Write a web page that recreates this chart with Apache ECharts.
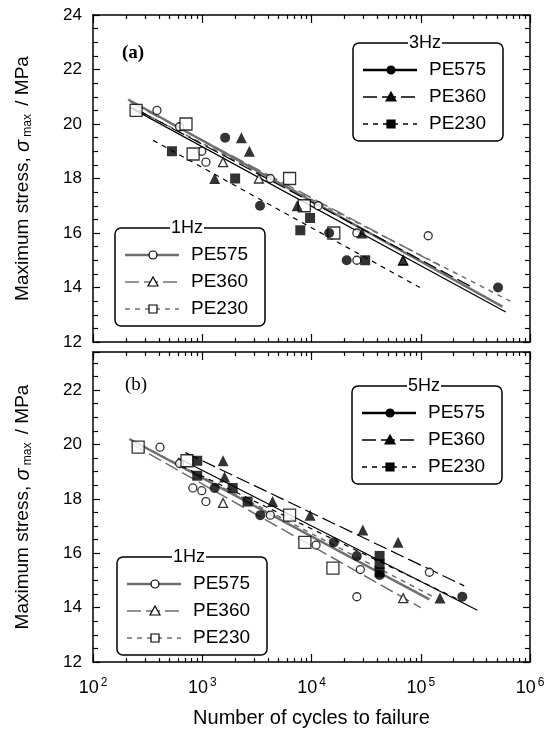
<!DOCTYPE html>
<html>
<head>
<meta charset="utf-8">
<script src="https://cdn.jsdelivr.net/npm/echarts@6/dist/echarts.min.js"></script>
<style>
html, body { margin: 0; background: #fff; }
#chart { width: 558px; height: 746px; }
</style>
</head>
<body>
<div id="chart"></div>
<script>
// tick positions on the log axis (decades get labels, the rest are minor ticks)
const decadeTicks = [100, 1000, 10000, 100000, 1000000]
const minorTicks = [200, 300, 400, 500, 600, 700, 800, 900,
    2000, 3000, 4000, 5000, 6000, 7000, 8000, 9000,
    20000, 30000, 40000, 50000, 60000, 70000, 80000, 90000,
    200000, 300000, 400000, 500000, 600000, 700000, 800000, 900000]

// panel (a): 1Hz  [cycles, stress MPa]
const aOneHzPE575 = [[385, 20.5], [620, 19.9], [990, 19.0], [1080, 18.6], [4200, 18.0],
    [11500, 17.0], [26000, 16.0], [117000, 15.9], [26000, 15.0]]
const aOneHzPE360 = [[1550, 18.6], [3300, 18.0], [69000, 15.0]]
const aOneHzPE230 = [[248, 20.5], [710, 20.0], [825, 18.9], [6300, 18.0], [8600, 17.0], [16000, 16.0]]

// panel (a): 3Hz
const threeHzPE575 = [[1620, 19.5], [3380, 17.0], [14500, 16.0], [21000, 15.0], [510000, 14.0]]
const threeHzPE360 = [[2280, 19.5], [2700, 19.0], [1300, 18.0], [7400, 17.0], [29000, 16.0], [69000, 15.0]]
const threeHzPE230 = [[528, 19.0], [2000, 18.0], [9700, 16.55], [7900, 16.1], [31000, 15.0]]

// panel (b): 1Hz
const bOneHzPE575 = [[410, 19.9], [620, 19.3], [820, 18.4], [990, 18.3], [1080, 17.9], [4200, 17.4],
    [11000, 16.3], [28000, 15.4], [120000, 15.3], [26000, 14.4]]
const bOneHzPE360 = [[1550, 17.85], [69000, 14.35]]
const bOneHzPE230 = [[259, 19.9], [725, 19.4], [6300, 17.4], [8700, 16.4], [15700, 15.45]]

// panel (b): 5Hz
const fiveHzPE575 = [[1300, 18.4], [3400, 17.4], [16000, 16.4], [26000, 15.9], [42000, 15.2], [240000, 14.4]]
const fiveHzPE360 = [[1550, 19.4], [1600, 18.8], [4400, 17.9], [9700, 17.4], [29500, 16.85], [62000, 16.4], [150000, 14.35]]
const fiveHzPE230 = [[900, 19.4], [900, 18.85], [1900, 18.4], [2600, 17.9], [42000, 15.9], [42000, 15.6], [42000, 15.3]]

const fitA1Hz575 = [[210, 20.9], [560000, 13.3]]
const fitA1Hz360 = [[220, 20.8], [150000, 14.8]]
const fitA1Hz230 = [[230, 20.6], [660000, 13.5]]
const fitA3Hz575 = [[220, 20.6], [600000, 13.1]]
const fitA3Hz360 = [[260, 20.5], [300000, 14.0]]
const fitA3Hz230 = [[355, 19.4], [98000, 14.0]]

const fitB1Hz575 = [[215, 20.2], [120000, 14.3]]
const fitB1Hz360 = [[230, 20.0], [100000, 14.0]]
const fitB1Hz230 = [[240, 20.1], [130000, 14.4]]
const fitB5Hz575 = [[600, 19.5], [330000, 13.9]]
const fitB5Hz360 = [[700, 19.7], [250000, 14.8]]
const fitB5Hz230 = [[650, 19.2], [220000, 14.3]]

const FONT = 'Liberation Sans, Arial, sans-serif'
const GRAY = '#6f6f6f'
const DASH_LONG = [14, 5]
const DASH_SHORT = [5, 5]

const chart = echarts.init(document.getElementById('chart'))

function xAxes(grid, withLabels) {
    const base = {
        gridIndex: grid,
        splitLine: { show: false },
        axisLine: { show: true, onZero: false, lineStyle: { color: '#000', width: 1.5 } }
    }
    const major = pos => Object.assign({}, base, {
        type: 'log', logBase: 10, min: decadeTicks[0], max: decadeTicks[decadeTicks.length - 1], position: pos,
        axisTick: { inside: true, length: 8, lineStyle: { color: '#000', width: 1.2 } },
        axisLabel: {
            show: withLabels && pos === 'bottom',
            color: '#000', fontFamily: FONT, fontSize: 18, margin: 15,
            formatter: v => '10{sup|' + Math.round(Math.log10(v)) + '}',
            rich: { sup: { fontSize: 12, fontFamily: FONT, color: '#000', padding: [0, 0, 11, 2] } }
        },
        name: withLabels && pos === 'bottom' ? 'Number of cycles to failure' : '',
        nameLocation: 'middle', nameGap: 46,
        nameTextStyle: { color: '#000', fontFamily: FONT, fontSize: 20 }
    })
    const minor = pos => Object.assign({}, base, {
        type: 'value', min: 2, max: 6, position: pos,
        axisLine: { show: false },
        axisTick: { inside: true, length: 4, customValues: minorTicks.map(Math.log10), lineStyle: { color: '#000', width: 1.2 } },
        axisLabel: { show: false }
    })
    return [major('bottom'), minor('bottom'), major('top'), minor('top')]
}

function yAxes(grid, max, hideMax) {
    const make = pos => ({
        gridIndex: grid, type: 'value', min: 12, max: max, interval: 2, position: pos,
        axisLine: { show: true, onZero: false, lineStyle: { color: '#000', width: 1.5 } },
        axisTick: { inside: true, length: 7, lineStyle: { color: '#000', width: 1.2 } },
        minorTick: { show: true, splitNumber: 4, length: 5, lineStyle: { color: '#000', width: 1.2 } },
        splitLine: { show: false },
        minorSplitLine: { show: false },
        axisLabel: {
            show: pos === 'left', showMaxLabel: !hideMax,
            color: '#000', fontFamily: FONT, fontSize: 17, margin: 11
        },
        name: pos === 'left' ? 'Maximum stress, {sig|σ}{sub| max} / MPa' : '',
        nameLocation: 'middle', nameGap: 59,
        nameTextStyle: {
            color: '#000', fontFamily: FONT, fontSize: 19,
            rich: {
                sig: { fontStyle: 'italic', fontSize: 20, fontFamily: FONT, color: '#000' },
                sub: { fontSize: 12, fontFamily: FONT, color: '#000', padding: [10, 3, 0, 0] }
            }
        }
    })
    return [make('left'), make('right')]
}

function pts(data, grid, symbol, size, open) {
    return {
        type: 'scatter', xAxisIndex: grid * 4, yAxisIndex: grid * 2,
        data: data, symbol: symbol, symbolSize: size, silent: true,
        itemStyle: open ? { color: '#fff', borderColor: '#000', borderWidth: 1.3 } : { color: '#000' },
        z: open ? 3 : 4
    }
}

function fit(data, grid, dash, color, width) {
    return {
        type: 'line', xAxisIndex: grid * 4, yAxisIndex: grid * 2,
        data: data, showSymbol: false, symbol: 'none', silent: true,
        lineStyle: { color: color, width: width, type: dash }, z: 2
    }
}

function legendBox(x, y, title, color, open) {
    const rows = [
        { name: 'PE575', sym: 'circle', dash: null, width: 2.5 },
        { name: 'PE360', sym: 'triangle', dash: DASH_LONG, width: 1.5 },
        { name: 'PE230', sym: 'rect', dash: DASH_SHORT, width: 1.5 }
    ]
    const fill = open ? '#fff' : '#000'
    const els = [
        { type: 'rect', shape: { x: x, y: y, width: 150, height: 98, r: 6 }, style: { fill: '#fff', stroke: '#000', lineWidth: 1.5 }, z: 10 },
        { type: 'text', x: x + 72, y: y, style: { text: title, font: '18px ' + FONT, fill: '#000', align: 'center', verticalAlign: 'middle', backgroundColor: '#fff', padding: [0, 1] }, z: 11 }
    ]
    rows.forEach((r, i) => {
        const cy = y + 27 * (i + 1)
        const cx = x + 38
        els.push({ type: 'line', shape: { x1: x + 10, y1: cy, x2: x + 64, y2: cy }, style: { stroke: color, lineWidth: r.width, lineDash: r.dash }, z: 11 })
        let sym
        if (r.sym === 'circle') sym = { type: 'circle', shape: { cx: cx, cy: cy, r: 4 } }
        else if (r.sym === 'triangle') sym = { type: 'polygon', shape: { points: [[cx, cy - 5], [cx + 5, cy + 4], [cx - 5, cy + 4]] } }
        else sym = { type: 'rect', shape: { x: cx - 4, y: cy - 4, width: 8, height: 8 } }
        sym.style = { fill: fill, stroke: '#000', lineWidth: 1.2 }
        sym.z = 12
        els.push(sym)
        els.push({ type: 'text', x: x + 76, y: cy, style: { text: r.name, font: '19px ' + FONT, fill: '#000', verticalAlign: 'middle' }, z: 11 })
    })
    return els
}

chart.setOption({
    backgroundColor: '#fff',
    animation: false,
    grid: [
        { left: 93, top: 15, width: 437, height: 327 },
        { left: 93, top: 352, width: 437, height: 310 }
    ],
    xAxis: xAxes(0, false).concat(xAxes(1, true)),
    yAxis: yAxes(0, 24, false).concat(yAxes(1, 23.4, true)),
    graphic: [
        { type: 'text', x: 122, y: 53, style: { text: '(a)', font: 'bold 19px Liberation Serif, serif', fill: '#000', verticalAlign: 'middle' } },
        { type: 'text', x: 125, y: 385, style: { text: '(b)', font: '19px Liberation Serif, serif', fill: '#000', verticalAlign: 'middle' } }
    ].concat(
        legendBox(353, 43, '3Hz', '#000', false),
        legendBox(115, 228, '1Hz', GRAY, true),
        legendBox(352, 386, '5Hz', '#000', false),
        legendBox(117, 557, '1Hz', GRAY, true)
    ),
    series: [
        fit(fitA1Hz575, 0, 'solid', GRAY, 2.5),
        fit(fitA1Hz360, 0, DASH_LONG, GRAY, 1.5),
        fit(fitA1Hz230, 0, DASH_SHORT, GRAY, 1.5),
        fit(fitA3Hz575, 0, 'solid', '#000', 1.2),
        fit(fitA3Hz360, 0, DASH_LONG, '#000', 1.2),
        fit(fitA3Hz230, 0, DASH_SHORT, '#000', 1.2),
        fit(fitB1Hz575, 1, 'solid', GRAY, 2.5),
        fit(fitB1Hz360, 1, DASH_LONG, GRAY, 1.5),
        fit(fitB1Hz230, 1, DASH_SHORT, GRAY, 1.5),
        fit(fitB5Hz575, 1, 'solid', '#000', 1.2),
        fit(fitB5Hz360, 1, DASH_LONG, '#000', 1.2),
        fit(fitB5Hz230, 1, DASH_SHORT, '#000', 1.2),

        pts(aOneHzPE575, 0, 'circle', 8, true),
        pts(aOneHzPE360, 0, 'triangle', 9, true),
        pts(aOneHzPE230, 0, 'rect', 12, true),
        pts(threeHzPE575, 0, 'circle', 10, false),
        pts(threeHzPE360, 0, 'triangle', 11, false),
        pts(threeHzPE230, 0, 'rect', 10, false),

        pts(bOneHzPE575, 1, 'circle', 8, true),
        pts(bOneHzPE360, 1, 'triangle', 9, true),
        pts(bOneHzPE230, 1, 'rect', 12, true),
        pts(fiveHzPE575, 1, 'circle', 10, false),
        pts(fiveHzPE360, 1, 'triangle', 11, false),
        pts(fiveHzPE230, 1, 'rect', 10, false)
    ]
})
</script>
</body>
</html>
